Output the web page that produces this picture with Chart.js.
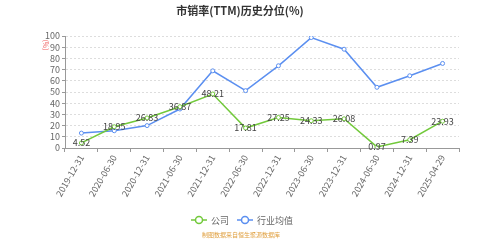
<!DOCTYPE html>
<html>
<head>
<meta charset="utf-8">
<script src="https://cdn.jsdelivr.net/npm/chart.js@4/dist/chart.umd.min.js"></script>
<style>
  html, body { margin: 0; padding: 0; background: #fff; }
  #wrap { width: 480px; height: 240px; }
</style>
</head>
<body>
<div id="wrap"><canvas id="c" width="480" height="240"></canvas></div>
<script>
// ---- data ----
const categories = ['2019-12-31', '2020-06-30', '2020-12-31', '2021-06-30', '2021-12-31', '2022-06-30',
                    '2022-12-31', '2023-06-30', '2023-12-31', '2024-06-30', '2024-12-31', '2025-04-29'];
const companyValues = [4.52, 18.95, 26.83, 36.87, 48.21, 17.81, 27.25, 24.33, 26.08, 0.97, 7.39, 23.93];
const industryValues = [13.3, 15.4, 20.0, 34.8, 68.9, 51.2, 73.4, 98.6, 88.2, 54.2, 64.5, 75.5];
const seriesNames = ['公司', '行业均值'];

const GREEN = '#72c93b';
const BLUE = '#5b8ff0';
const FONT = '"Noto Sans CJK SC", "Noto Sans", sans-serif';

// title, unit label, value labels, legend and source line
const decorPlugin = {
    id: 'decor',
    afterDatasetsDraw(chart) {
        const ctx = chart.ctx;
        ctx.save();

        // value labels on the company line, centred on the points
        const meta = chart.getDatasetMeta(0);
        ctx.font = '9px ' + FONT;
        ctx.fillStyle = '#444';
        ctx.textAlign = 'center';
        ctx.textBaseline = 'middle';
        meta.data.forEach((pt, i) => {
            ctx.fillText(companyValues[i].toFixed(2), pt.x, pt.y);
        });

        // title
        ctx.font = 'bold 11px ' + FONT;
        ctx.fillStyle = '#333';
        ctx.fillText('市销率(TTM)历史分位(%)', 240, 11);

        // unit label
        ctx.save();
        ctx.translate(46, 45);
        ctx.rotate(Math.PI / 2);
        ctx.font = '7px ' + FONT;
        ctx.fillStyle = '#f06060';
        ctx.fillText('(%)', 0, 0);
        ctx.restore();

        // legend
        const items = [
            { label: seriesNames[0], color: GREEN, x: 191 },
            { label: seriesNames[1], color: BLUE, x: 237 }
        ];
        const ly = 220;
        ctx.font = '9px ' + FONT;
        ctx.textAlign = 'left';
        items.forEach(it => {
            ctx.strokeStyle = it.color;
            ctx.lineWidth = 1.5;
            ctx.beginPath();
            ctx.moveTo(it.x, ly);
            ctx.lineTo(it.x + 16, ly);
            ctx.stroke();
            ctx.beginPath();
            ctx.arc(it.x + 8, ly, 3.5, 0, Math.PI * 2);
            ctx.fillStyle = '#fff';
            ctx.fill();
            ctx.stroke();
            ctx.fillStyle = '#666';
            ctx.fillText(it.label, it.x + 20, ly + 0.5);
        });

        // source line
        ctx.font = '6px ' + FONT;
        ctx.fillStyle = '#e0a040';
        ctx.textAlign = 'center';
        ctx.fillText('制图数据来自恒生聚源数据库', 241, 235);

        ctx.restore();
    }
};

new Chart(document.getElementById('c').getContext('2d'), {
    type: 'line',
    data: {
        labels: categories,
        datasets: [{
            label: seriesNames[0],
            data: companyValues,
            borderColor: GREEN,
            borderWidth: 1.5,
            pointRadius: 2,
            pointBackgroundColor: '#fff',
            pointBorderColor: GREEN,
            pointBorderWidth: 1,
            tension: 0
        }, {
            label: seriesNames[1],
            data: industryValues,
            borderColor: BLUE,
            borderWidth: 1.5,
            pointRadius: 2,
            pointBackgroundColor: '#fff',
            pointBorderColor: BLUE,
            pointBorderWidth: 1,
            tension: 0
        }]
    },
    options: {
        responsive: false,
        animation: false,
        layout: { padding: { left: 35, right: 21, top: 36, bottom: 32 } },
        scales: {
            x: {
                offset: true,
                afterFit: s => { s.height = 60; },
                border: { color: '#999' },
                grid: { offset: true, drawOnChartArea: false, color: '#999', tickLength: 4 },
                ticks: {
                    color: '#666',
                    font: { size: 9, family: FONT },
                    maxRotation: 60,
                    minRotation: 60,
                    padding: 1,
                    autoSkip: false
                }
            },
            y: {
                min: 0,
                max: 100,
                afterFit: s => { s.width = 30; },
                border: { color: '#999', dash: [2, 2] },
                grid: { color: '#ddd', tickColor: '#999', tickLength: 3, tickBorderDash: [], lineWidth: 1 },
                ticks: {
                    stepSize: 10,
                    autoSkip: false,
                    color: '#666',
                    font: { size: 9, family: FONT },
                    padding: 2
                }
            }
        },
        plugins: {
            legend: { display: false },
            tooltip: { enabled: false }
        }
    },
    plugins: [decorPlugin]
});
</script>
</body>
</html>
